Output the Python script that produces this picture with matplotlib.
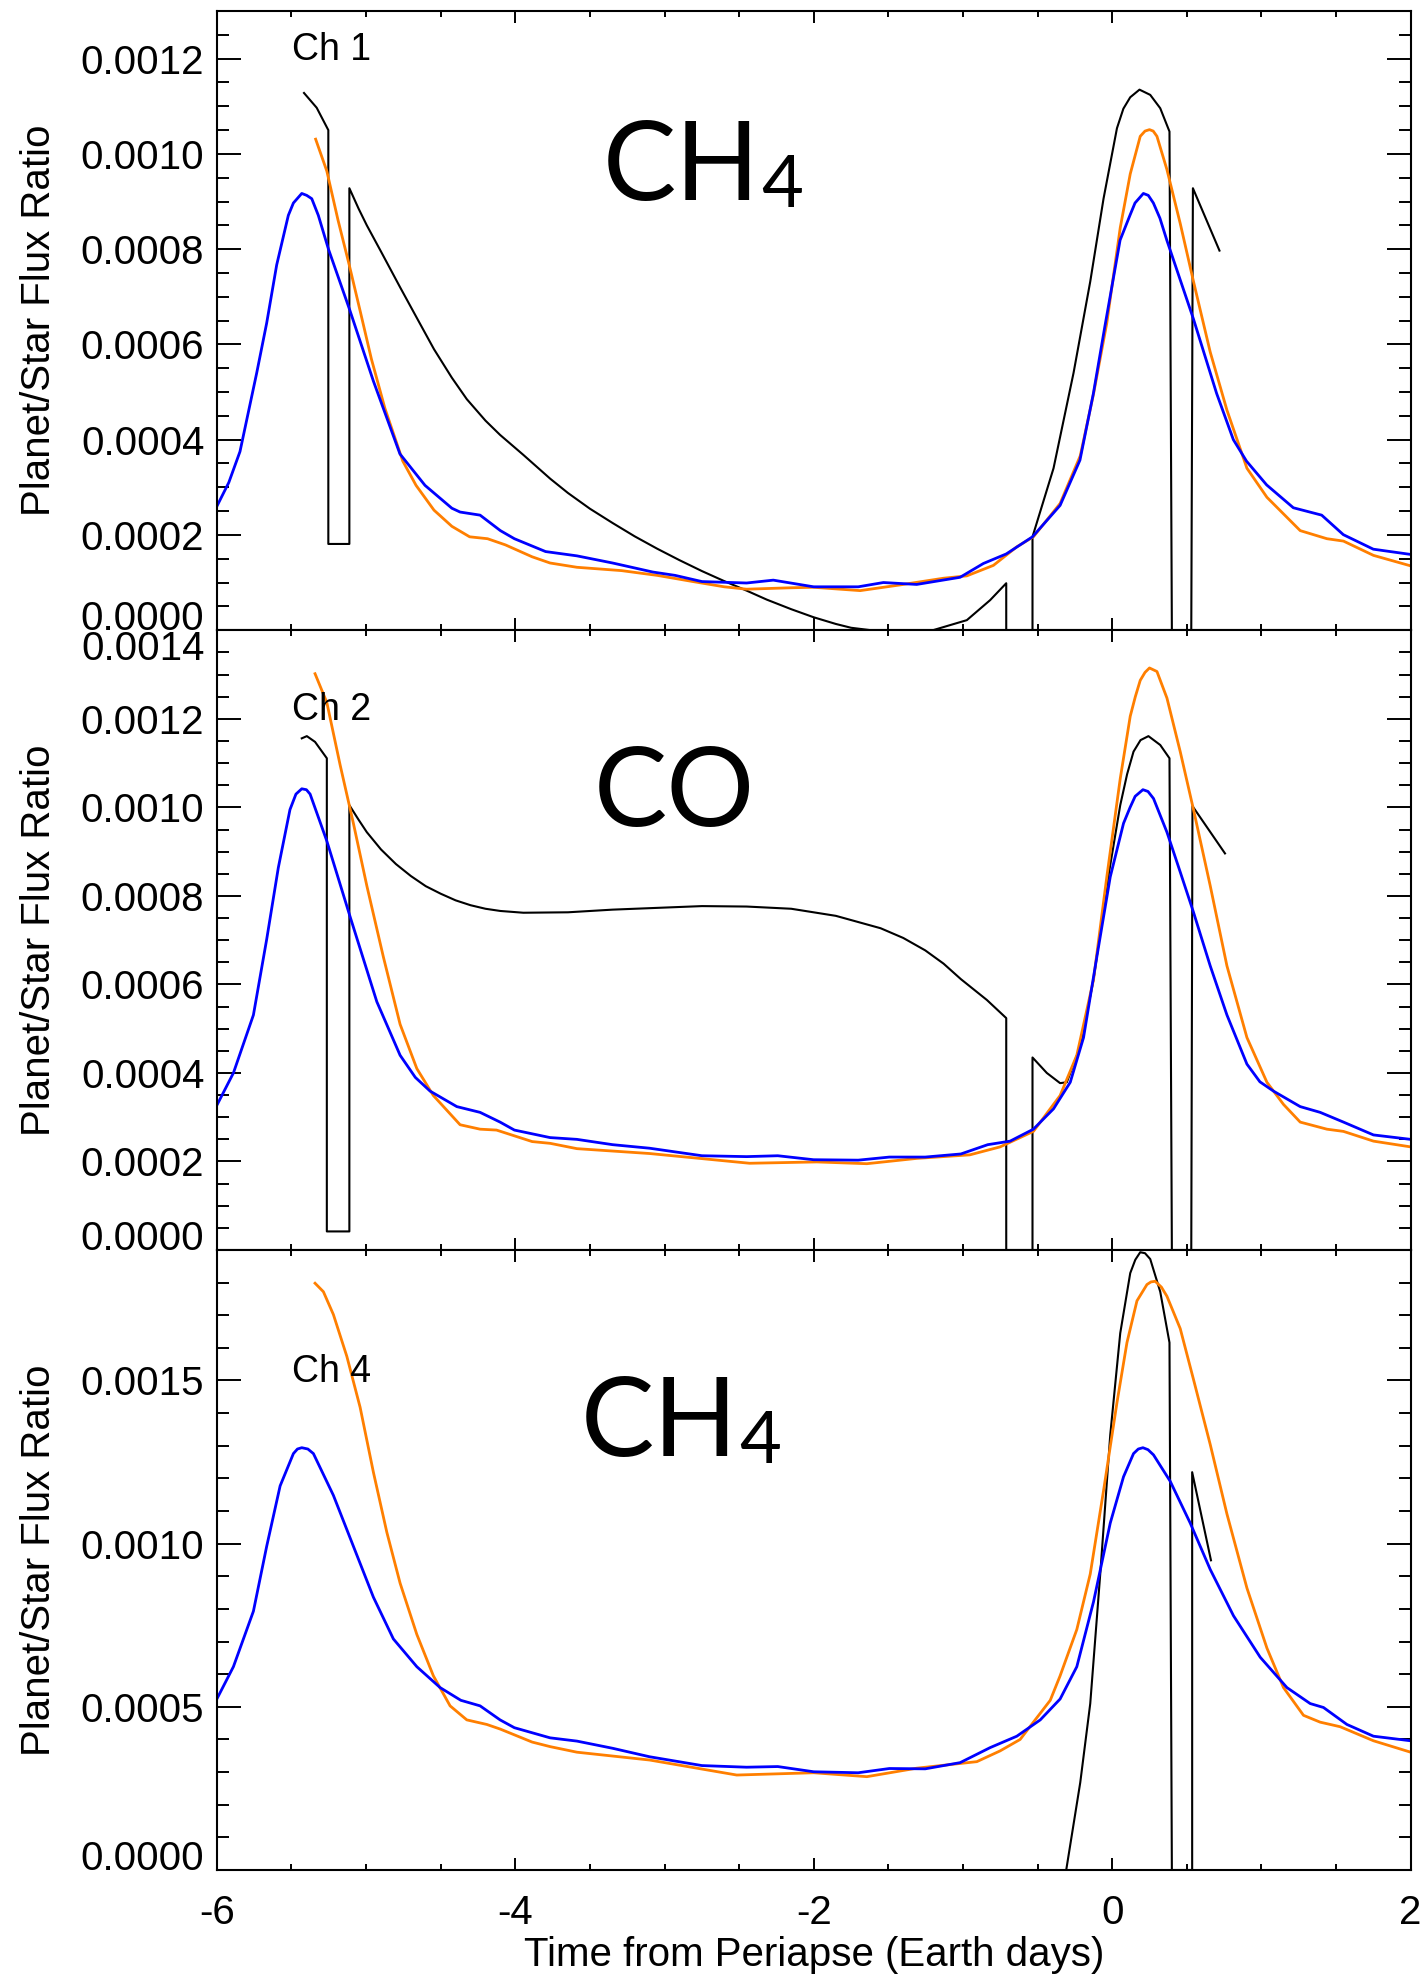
import matplotlib
matplotlib.use('Agg')
import matplotlib.pyplot as plt
import numpy as np
from matplotlib.ticker import MultipleLocator, FormatStrFormatter

plt.rcParams['font.family'] = ['Liberation Sans', 'DejaVu Sans']
plt.rcParams['axes.unicode_minus'] = False

# flux ratios below are listed in units of 1e-3
SCALE = 1e-3

# ---- Ch 1 (CH4) ----
t1_model = [-5.416, -5.331, -5.253, -5.253, -5.112, -5.112, -5.05, -4.995, -4.9, -4.772,
            -4.65, -4.545, -4.425, -4.325, -4.2, -4.102, -3.946, -3.766, -3.647, -3.5,
            -3.348, -3.2, -3.049, -2.9, -2.749, -2.6, -2.45, -2.314, -2.151, -2.0,
            -1.852, -1.75, -1.62, -1.4, -1.2, -0.974, -0.818, -0.71, -0.71, -0.534,
            -0.534, -0.393, -0.259, -0.147, -0.058, 0.032, 0.075, 0.121, 0.183, 0.255,
            0.322, 0.384, 0.40, 0.53, 0.541, 0.719]
f1_model = [1.128, 1.097, 1.05, 0.181, 0.181, 0.928, 0.885, 0.850, 0.795, 0.720,
            0.650, 0.590, 0.530, 0.485, 0.440, 0.410, 0.368, 0.318, 0.288, 0.255,
            0.225, 0.197, 0.171, 0.147, 0.124, 0.103, 0.083, 0.064, 0.044, 0.027,
            0.013, 0.005, 0.0, -0.005, 0.0, 0.021, 0.063, 0.0985, 0.0, 0.0,
            0.196, 0.34, 0.54, 0.732, 0.906, 1.054, 1.095, 1.119, 1.135, 1.124,
            1.096, 1.047, 0.0, 0.0, 0.928, 0.797]

t1_orange = [-5.338, -5.263, -5.188, -5.113, -5.038, -4.964, -4.874, -4.754, -4.665, -4.545,
             -4.425, -4.306, -4.186, -4.066, -3.887, -3.767, -3.587, -3.288, -3.049, -2.809,
             -2.6, -2.45, -2.151, -2.001, -1.689, -1.421, -1.131, -0.974, -0.796, -0.639,
             -0.528, -0.349, -0.214, -0.125, -0.036, 0.054, 0.121, 0.188, 0.22, 0.25,
             0.275, 0.30, 0.367, 0.456, 0.545, 0.657, 0.769, 0.903, 1.037, 1.26,
             1.439, 1.55, 1.751, 2.0]
f1_orange = [1.031, 0.964, 0.861, 0.767, 0.668, 0.569, 0.466, 0.355, 0.304, 0.252,
             0.218, 0.196, 0.192, 0.179, 0.154, 0.141, 0.132, 0.125, 0.115, 0.102,
             0.091, 0.086, 0.089, 0.090, 0.083, 0.095, 0.109, 0.114, 0.136, 0.175,
             0.196, 0.266, 0.366, 0.496, 0.645, 0.845, 0.958, 1.037, 1.048, 1.051,
             1.048, 1.037, 0.967, 0.854, 0.732, 0.584, 0.462, 0.34, 0.279, 0.209,
             0.192, 0.187, 0.157, 0.135]

t1_blue = [-6.0, -5.92, -5.845, -5.733, -5.666, -5.599, -5.521, -5.487, -5.431, -5.398,
           -5.364, -5.32, -5.252, -5.108, -4.951, -4.773, -4.605, -4.425, -4.37, -4.236,
           -4.10, -4.006, -3.797, -3.587, -3.348, -3.078, -2.929, -2.749, -2.45, -2.271,
           -2.001, -1.702, -1.533, -1.31, -1.019, -0.863, -0.71, -0.534, -0.349, -0.216,
           -0.126, -0.05, 0.053, 0.119, 0.153, 0.209, 0.242, 0.276, 0.32, 0.366,
           0.544, 0.70, 0.812, 0.90, 1.035, 1.214, 1.404, 1.549, 1.75, 2.0]
f1_blue = [0.26, 0.31, 0.375, 0.54, 0.645, 0.767, 0.871, 0.897, 0.917, 0.913,
           0.906, 0.871, 0.80, 0.671, 0.523, 0.370, 0.304, 0.256, 0.248, 0.2415,
           0.209, 0.192, 0.165, 0.156, 0.141, 0.122, 0.115, 0.102, 0.099, 0.105,
           0.091, 0.091, 0.100, 0.096, 0.111, 0.140, 0.160, 0.196, 0.262, 0.357,
           0.497, 0.636, 0.819, 0.871, 0.897, 0.917, 0.913, 0.897, 0.865, 0.819,
           0.654, 0.497, 0.40, 0.355, 0.305, 0.257, 0.2415, 0.2005, 0.170, 0.159]

# ---- Ch 2 (CO) ----
t2_model = [-5.431, -5.397, -5.342, -5.263, -5.263, -5.112, -5.112, -5.05, -4.995, -4.9,
            -4.8, -4.7, -4.6, -4.5, -4.4, -4.3, -4.2, -4.1, -3.946, -3.647,
            -3.348, -3.049, -2.749, -2.45, -2.151, -1.852, -1.552, -1.4, -1.253, -1.13,
            -1.014, -0.84, -0.71, -0.71, -0.534, -0.534, -0.438, -0.349, -0.304, -0.214,
            -0.125, -0.036, 0.054, 0.10, 0.143, 0.19, 0.243, 0.322, 0.384, 0.40,
            0.53, 0.538, 0.756]
f2_model = [1.156, 1.161, 1.148, 1.111, 0.042, 0.042, 1.005, 0.972, 0.944, 0.905,
            0.872, 0.845, 0.822, 0.805, 0.790, 0.779, 0.771, 0.766, 0.762, 0.763,
            0.769, 0.773, 0.777, 0.776, 0.771, 0.755, 0.727, 0.705, 0.677, 0.647,
            0.612, 0.565, 0.524, 0.0, 0.0, 0.435, 0.40, 0.377, 0.379, 0.46,
            0.611, 0.823, 1.005, 1.075, 1.126, 1.152, 1.161, 1.141, 1.111, 0.0,
            0.0, 1.003, 0.896]

t2_orange = [-5.342, -5.263, -5.174, -5.085, -4.995, -4.884, -4.772, -4.66, -4.549, -4.37,
             -4.236, -4.126, -3.887, -3.766, -3.587, -3.1, -2.43, -1.98, -1.644, -1.31,
             -0.954, -0.751, -0.528, -0.349, -0.237, -0.125, -0.036, 0.054, 0.121, 0.155,
             0.188, 0.22, 0.25, 0.30, 0.367, 0.456, 0.545, 0.657, 0.769, 0.903,
             1.037, 1.148, 1.26, 1.439, 1.55, 1.751, 2.0]
f2_orange = [1.302, 1.237, 1.096, 0.964, 0.823, 0.662, 0.51, 0.41, 0.349, 0.283,
             0.273, 0.271, 0.245, 0.241, 0.229, 0.218, 0.196, 0.199, 0.195, 0.207,
             0.215, 0.233, 0.268, 0.349, 0.44, 0.611, 0.843, 1.065, 1.206, 1.25,
             1.287, 1.305, 1.315, 1.307, 1.247, 1.126, 0.995, 0.823, 0.642, 0.48,
             0.379, 0.329, 0.289, 0.273, 0.268, 0.246, 0.233]

t2_blue = [-6.0, -5.889, -5.755, -5.666, -5.588, -5.51, -5.47, -5.431, -5.40, -5.375,
           -5.263, -5.107, -4.928, -4.772, -4.67, -4.571, -4.392, -4.236, -4.102, -4.006,
           -3.767, -3.587, -3.348, -3.1, -2.749, -2.45, -2.241, -2.001, -1.702, -1.493,
           -1.253, -1.014, -0.834, -0.684, -0.528, -0.393, -0.281, -0.192, -0.103, -0.013,
           0.076, 0.12, 0.154, 0.206, 0.24, 0.277, 0.367, 0.456, 0.545, 0.657,
           0.769, 0.903, 0.99, 1.081, 1.26, 1.394, 1.55, 1.751, 2.0]
f2_blue = [0.327, 0.40, 0.531, 0.702, 0.864, 0.995, 1.03, 1.042, 1.04, 1.03,
           0.924, 0.753, 0.561, 0.44, 0.39, 0.359, 0.324, 0.311, 0.289, 0.271,
           0.254, 0.25, 0.238, 0.23, 0.213, 0.211, 0.213, 0.204, 0.203, 0.21,
           0.21, 0.217, 0.238, 0.246, 0.273, 0.319, 0.379, 0.48, 0.662, 0.843,
           0.964, 1.0, 1.025, 1.04, 1.036, 1.02, 0.944, 0.854, 0.763, 0.642,
           0.531, 0.42, 0.38, 0.359, 0.324, 0.311, 0.289, 0.26, 0.25]

# ---- Ch 4 (CH4) ----
t4_model = [-0.308, -0.214, -0.147, -0.08, -0.013, 0.054, 0.121, 0.155, 0.188, 0.22,
            0.255, 0.322, 0.384, 0.40, 0.536, 0.536, 0.662]
f4_model = [0.0, 0.268, 0.51, 0.907, 1.333, 1.645, 1.829, 1.87, 1.893, 1.89,
            1.872, 1.772, 1.616, 0.0, 0.0, 1.219, 0.949]

t4_orange = [-5.342, -5.286, -5.219, -5.129, -5.04, -4.951, -4.861, -4.772, -4.66, -4.549,
             -4.437, -4.325, -4.191, -4.102, -3.887, -3.766, -3.587, -3.1, -2.516, -2.0,
             -1.644, -1.31, -0.907, -0.751, -0.617, -0.528, -0.415, -0.349, -0.237, -0.147,
             -0.058, 0.032, 0.099, 0.166, 0.233, 0.26, 0.288, 0.33, 0.367, 0.456,
             0.545, 0.657, 0.769, 0.903, 1.037, 1.148, 1.282, 1.394, 1.528, 1.751,
             2.0]
f4_orange = [1.798, 1.772, 1.702, 1.574, 1.418, 1.219, 1.035, 0.879, 0.722, 0.595,
             0.503, 0.46, 0.446, 0.432, 0.392, 0.378, 0.361, 0.337, 0.291, 0.298,
             0.286, 0.312, 0.332, 0.365, 0.40, 0.453, 0.52, 0.595, 0.737, 0.907,
             1.162, 1.432, 1.616, 1.744, 1.794, 1.802, 1.804, 1.786, 1.758, 1.659,
             1.503, 1.304, 1.091, 0.864, 0.68, 0.559, 0.474, 0.453, 0.439, 0.396,
             0.361]

t4_blue = [-6.0, -5.889, -5.755, -5.666, -5.576, -5.487, -5.46, -5.431, -5.39, -5.353,
           -5.219, -5.085, -4.951, -4.817, -4.66, -4.504, -4.365, -4.236, -4.102, -4.006,
           -3.767, -3.587, -3.348, -3.1, -2.749, -2.45, -2.241, -2.0, -1.702, -1.493,
           -1.253, -1.019, -0.818, -0.639, -0.482, -0.349, -0.237, -0.125, -0.013, 0.076,
           0.143, 0.175, 0.206, 0.24, 0.277, 0.389, 0.523, 0.657, 0.813, 0.992,
           1.171, 1.327, 1.416, 1.573, 1.751, 2.0]
f4_blue = [0.524, 0.623, 0.793, 0.992, 1.177, 1.276, 1.29, 1.294, 1.29, 1.276,
           1.148, 0.992, 0.836, 0.708, 0.623, 0.559, 0.52, 0.503, 0.46, 0.436,
           0.405, 0.395, 0.373, 0.347, 0.32, 0.315, 0.317, 0.301, 0.298, 0.311,
           0.31, 0.329, 0.375, 0.41, 0.46, 0.524, 0.623, 0.822, 1.063, 1.205,
           1.276, 1.29, 1.294, 1.288, 1.272, 1.191, 1.063, 0.921, 0.779, 0.652,
           0.559, 0.51, 0.498, 0.446, 0.41, 0.396]

panels = [
    dict(chan='Ch 1', species=('CH', '4'), ylim=0.0013,
         yticks=[0.0, 0.0002, 0.0004, 0.0006, 0.0008, 0.0010, 0.0012], yminor=0.00005,
         model=(t1_model, f1_model), orange=(t1_orange, f1_orange), blue=(t1_blue, f1_blue)),
    dict(chan='Ch 2', species=('CO', ''), ylim=0.0014,
         yticks=[0.0, 0.0002, 0.0004, 0.0006, 0.0008, 0.0010, 0.0012, 0.0014], yminor=0.00005,
         model=(t2_model, f2_model), orange=(t2_orange, f2_orange), blue=(t2_blue, f2_blue)),
    dict(chan='Ch 4', species=('CH', '4'), ylim=0.0019,
         yticks=[0.0, 0.0005, 0.0010, 0.0015], yminor=0.0001,
         model=(t4_model, f4_model), orange=(t4_orange, f4_orange), blue=(t4_blue, f4_blue)),
]

# layout: [bottom, height] of each panel in figure fraction
boxes = [(0.6811, 0.3133), (0.3674, 0.3136), (0.05364, 0.3138)]
# text placement in axes fraction: channel label baseline, species x, species baseline
text_pos = [(0.9212, 0.3233, 0.695), (0.856, 0.3158, 0.684), (0.787, 0.3046, 0.668)]

fig = plt.figure(figsize=(14.22, 19.76), dpi=100)
axes = []
for i, p in enumerate(panels):
    bottom, height = boxes[i]
    ax = fig.add_axes([0.1525, bottom, 0.8395, height])
    axes.append(ax)

    tm, fm = p['model']
    ax.plot(tm, np.array(fm) * SCALE, color='black', lw=1.5, solid_joinstyle='round')
    to, fo = p['orange']
    ax.plot(to, np.array(fo) * SCALE, color='#ff7f00', lw=2.0, solid_joinstyle='round')
    tb, fb = p['blue']
    ax.plot(tb, np.array(fb) * SCALE, color='#0000ff', lw=2.0, solid_joinstyle='round')

    ax.set_xlim(-6, 2)
    ax.set_ylim(0, p['ylim'])
    ax.xaxis.set_major_locator(MultipleLocator(2))
    ax.xaxis.set_minor_locator(MultipleLocator(0.5))
    ax.set_yticks(p['yticks'])
    ax.yaxis.set_minor_locator(MultipleLocator(p['yminor']))
    ax.yaxis.set_major_formatter(FormatStrFormatter('%.4f'))

    ax.tick_params(which='both', direction='in', top=True, right=True,
                   width=1.4, labelsize=29)
    ax.tick_params(axis='y', which='major', length=17.3, pad=9)
    ax.tick_params(axis='y', which='minor', length=8.6)
    ax.tick_params(axis='x', which='major', length=8.6, pad=17)
    ax.tick_params(axis='x', which='minor', length=4.3)
    if i < 2:
        ax.tick_params(axis='x', labelbottom=False)
    for sp in ax.spines.values():
        sp.set_linewidth(1.5)

    ax.set_ylabel('Planet/Star Flux Ratio', fontsize=29)
    ax.yaxis.set_label_coords(-0.1334, 0.5)

    cy, sx, sy = text_pos[i]
    ax.text(0.063, cy, p['chan'], transform=ax.transAxes, fontsize=27,
            ha='left', va='baseline')
    main, sub = p['species']
    big = ax.text(sx, sy, main, transform=ax.transAxes, fontsize=79,
                  family='Lato', ha='left', va='baseline')
    if sub:
        ax.annotate(sub, xy=(1, 0), xycoords=big, xytext=(1, 0),
                    textcoords='offset points', fontsize=52, family='Lato',
                    ha='left', va='bottom')

axes[-1].set_xlabel('Time from Periapse (Earth days)', fontsize=29)
axes[-1].xaxis.set_label_coords(0.5, -0.106)

# end labels sit inside the frame
fig.canvas.draw()
for ax in axes:
    ax.get_yticklabels()[0].set_va('baseline')
axes[1].get_yticklabels()[-1].set_va('top')

fig.savefig('out.png', dpi=100)
